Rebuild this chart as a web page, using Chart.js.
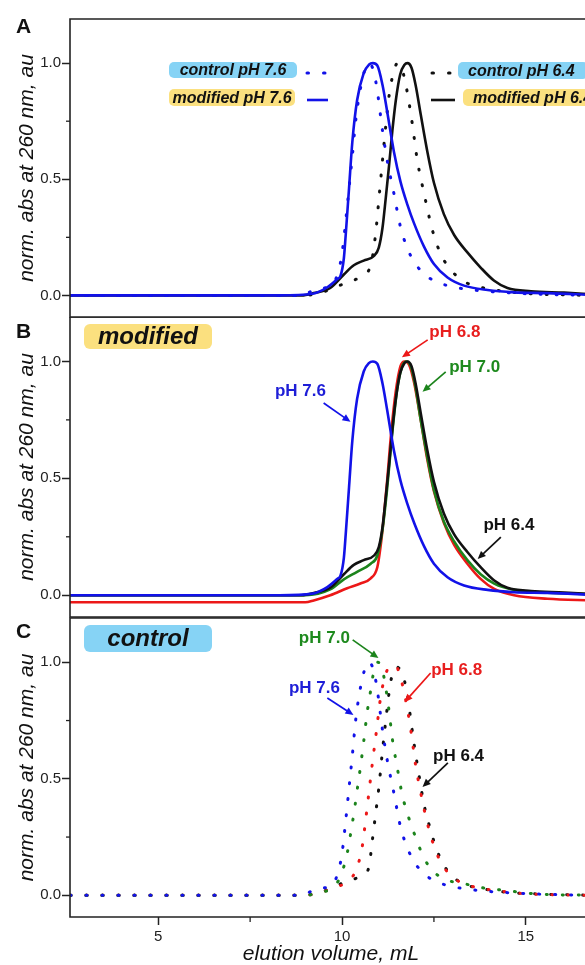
<!DOCTYPE html>
<html><head><meta charset="utf-8">
<script src="https://cdn.jsdelivr.net/npm/chart.js@4.4.1/dist/chart.umd.min.js"></script>
<style>
html,body{margin:0;padding:0;overflow:hidden;background:#fff;width:585px;height:965px;}
canvas{position:absolute;left:0;display:block;}
</style></head><body>
<canvas id="cA" width="592" height="318" style="top:0px"></canvas>
<canvas id="cB" width="592" height="301" style="top:317px"></canvas>
<canvas id="cC" width="592" height="348" style="top:617px"></canvas>
<script>
// ---------- axis setup ----------
const xMin = 2.6, xMax = 16.8, yMin = -0.093, yMax = 1.19;
const yTicks = [0, 0.5, 1.0];
const yTickLabels = ['0.0', '0.5', '1.0'];
const yMinorTicks = [0.25, 0.75];
const xTicks = [5, 10, 15];
const xTickLabels = ['5', '10', '15'];
const xMinorTicks = [7.5, 12.5];

// ---------- data: modified samples (solid) ----------
const modX76 = [2.6, 8.3, 9.2, 9.6, 9.87, 9.96, 10.05, 10.10, 10.19, 10.28, 10.41, 10.59, 10.73, 10.84, 10.96, 11.10, 11.23, 11.41, 11.59, 11.78, 11.96, 12.23, 12.50, 12.87, 13.32, 13.96, 14.68, 15.59, 16.8];
const modY76 = [0, 0, 0.007, 0.035, 0.07, 0.085, 0.16, 0.26, 0.46, 0.66, 0.84, 0.957, 0.993, 1.0, 0.99, 0.907, 0.79, 0.62, 0.49, 0.39, 0.31, 0.21, 0.135, 0.077, 0.042, 0.023, 0.013, 0.01, 0.002];

const modX70 = [2.6, 9.0, 9.68, 10.05, 10.41, 10.78, 10.96, 11.10, 11.23, 11.37, 11.50, 11.64, 11.75, 11.87, 12.0, 12.14, 12.32, 12.50, 12.77, 13.05, 13.41, 13.77, 14.14, 14.68, 15.59, 16.8];
const modY70 = [0, 0, 0.025, 0.068, 0.1, 0.135, 0.17, 0.28, 0.46, 0.70, 0.88, 0.98, 1.0, 0.98, 0.89, 0.75, 0.59, 0.45, 0.315, 0.23, 0.15, 0.09, 0.05, 0.023, 0.011, 0.005];

const modX68 = [2.6, 9.0, 9.23, 9.68, 10.14, 10.5, 10.78, 10.96, 11.05, 11.14, 11.23, 11.34, 11.46, 11.59, 11.70, 11.82, 11.96, 12.14, 12.32, 12.50, 12.77, 13.05, 13.41, 13.77, 14.14, 14.68, 15.59, 16.8];
const modY68 = [-0.03, -0.03, -0.022, 0.0, 0.03, 0.05, 0.072, 0.12, 0.21, 0.34, 0.495, 0.70, 0.87, 0.98, 1.0, 0.987, 0.91, 0.75, 0.58, 0.445, 0.31, 0.215, 0.135, 0.07, 0.027, 0.0, -0.015, -0.022];

const modX64 = [2.6, 8.9, 9.23, 9.68, 10.05, 10.32, 10.59, 10.87, 11.0, 11.10, 11.19, 11.28, 11.37, 11.46, 11.58, 11.70, 11.78, 11.89, 12.0, 12.14, 12.32, 12.50, 12.77, 13.05, 13.41, 13.77, 14.14, 14.50, 15.14, 16.04, 16.8];
const modY64 = [0, 0, 0.01, 0.032, 0.09, 0.13, 0.15, 0.17, 0.206, 0.29, 0.42, 0.56, 0.71, 0.836, 0.95, 0.993, 1.0, 0.98, 0.907, 0.78, 0.62, 0.485, 0.35, 0.26, 0.185, 0.12, 0.063, 0.032, 0.018, 0.012, 0.005];

// ---------- data: control samples (dotted) ----------
const ctlX76 = [2.6, 8.9, 9.32, 9.73, 9.91, 10.0, 10.10, 10.19, 10.28, 10.37, 10.5, 10.64, 10.73, 10.86, 10.96, 11.10, 11.23, 11.41, 11.59, 11.87, 12.23, 12.59, 13.05, 13.77, 14.68, 15.6, 16.8];
const ctlY76 = [0, 0, 0.029, 0.043, 0.11, 0.18, 0.32, 0.46, 0.60, 0.75, 0.89, 0.98, 1.0, 0.965, 0.88, 0.71, 0.58, 0.44, 0.295, 0.17, 0.093, 0.057, 0.036, 0.02, 0.01, 0.004, 0];

const ctlX70 = [2.6, 8.9, 9.4, 9.82, 10.0, 10.14, 10.25, 10.34, 10.41, 10.5, 10.59, 10.68, 10.78, 10.87, 10.98, 11.10, 11.19, 11.28, 11.37, 11.50, 11.64, 11.82, 12.0, 12.23, 12.5, 12.87, 13.32, 13.77, 14.5, 15.3, 16.8];
const ctlY70 = [0, 0, 0.012, 0.043, 0.1, 0.18, 0.28, 0.37, 0.45, 0.55, 0.66, 0.78, 0.88, 0.965, 1.0, 0.965, 0.89, 0.79, 0.67, 0.55, 0.43, 0.33, 0.25, 0.16, 0.10, 0.065, 0.05, 0.034, 0.02, 0.006, 0];

const ctlX68 = [2.6, 8.9, 9.37, 9.8, 10.19, 10.41, 10.55, 10.64, 10.73, 10.82, 10.94, 11.05, 11.19, 11.32, 11.46, 11.59, 11.73, 11.87, 12.0, 12.14, 12.32, 12.55, 12.82, 13.14, 13.59, 14.23, 14.9, 16.8];
const ctlY68 = [0, 0, 0.01, 0.035, 0.063, 0.12, 0.21, 0.32, 0.44, 0.56, 0.71, 0.85, 0.95, 0.985, 0.985, 0.935, 0.84, 0.71, 0.56, 0.44, 0.31, 0.19, 0.11, 0.063, 0.036, 0.02, 0.008, 0];

const ctlX64 = [2.6, 8.9, 9.37, 9.78, 10.19, 10.55, 10.73, 10.82, 10.91, 11.0, 11.10, 11.19, 11.28, 11.37, 11.49, 11.59, 11.70, 11.82, 11.96, 12.10, 12.23, 12.41, 12.59, 12.87, 13.23, 13.77, 14.5, 15.3, 16.8];
const ctlY64 = [0, 0, 0.01, 0.038, 0.063, 0.085, 0.12, 0.23, 0.345, 0.46, 0.62, 0.75, 0.87, 0.95, 0.98, 0.965, 0.92, 0.81, 0.65, 0.51, 0.39, 0.28, 0.19, 0.105, 0.055, 0.03, 0.013, 0.006, 0];

// control pH 6.4 as normalised in panel A
const ctlAX64 = [2.6, 8.9, 9.4, 9.8, 10.14, 10.5, 10.78, 10.91, 11.0, 11.10, 11.19, 11.28, 11.37, 11.51, 11.64, 11.78, 11.91, 12.05, 12.23, 12.46, 12.68, 12.96, 13.32, 13.77, 14.5, 15.3, 16.8];
const ctlAY64 = [0, 0, 0.01, 0.035, 0.055, 0.08, 0.13, 0.26, 0.41, 0.58, 0.73, 0.86, 0.94, 1.0, 0.97, 0.87, 0.74, 0.58, 0.44, 0.28, 0.18, 0.11, 0.06, 0.035, 0.016, 0.006, 0];

// ---------- colours & fonts ----------
const BLUE = 'rgb(18,18,232)', RED = 'rgb(236,24,24)', GREEN = 'rgb(28,132,28)', BLACK = '#111';
const TBLUE = 'rgb(30,30,215)', TRED = 'rgb(232,30,30)', TGREEN = 'rgb(30,138,30)';
const CYANBOX = '#86d3f5', YELLOWBOX = '#fbe07f';
const FAM = '"Liberation Sans", Arial, Helvetica, sans-serif';

// ---------- annotations (data coordinates) ----------
const annB = [
  {t: 'pH 6.8', c: TRED, ac: RED, tx: 13.07, ty: 1.126, x1: 12.33, y1: 1.092, x2: 11.63, y2: 1.018},
  {t: 'pH 7.0', c: TGREEN, ac: GREEN, tx: 13.61, ty: 0.976, x1: 12.82, y1: 0.955, x2: 12.19, y2: 0.870},
  {t: 'pH 7.6', c: TBLUE, ac: BLUE, tx: 8.87, ty: 0.873, x1: 9.50, y1: 0.822, x2: 10.23, y2: 0.742},
  {t: 'pH 6.4', c: BLACK, ac: BLACK, tx: 14.54, ty: 0.300, x1: 14.32, y1: 0.249, x2: 13.69, y2: 0.155}
];
const annC = [
  {t: 'pH 7.0', c: TGREEN, ac: GREEN, tx: 9.52, ty: 1.104, x1: 10.29, y1: 1.096, x2: 10.99, y2: 1.018},
  {t: 'pH 6.8', c: TRED, ac: RED, tx: 13.12, ty: 0.967, x1: 12.41, y1: 0.954, x2: 11.70, y2: 0.829},
  {t: 'pH 7.6', c: TBLUE, ac: BLUE, tx: 9.25, ty: 0.890, x1: 9.60, y1: 0.847, x2: 10.31, y2: 0.774},
  {t: 'pH 6.4', c: BLACK, ac: BLACK, tx: 13.17, ty: 0.598, x1: 12.88, y1: 0.568, x2: 12.19, y2: 0.465}
];
const legendA = [
  {t: 'control pH 7.6', fill: CYANBOX, box: [169, 62, 128, 16], align: 'center', s: [306, 330, 73], col: BLUE, dot: true},
  {t: 'modified pH 7.6', fill: YELLOWBOX, box: [169, 89, 126, 17], align: 'center', s: [306, 328, 100], col: BLUE, dot: false},
  {t: 'control pH 6.4', fill: CYANBOX, box: [458, 62, 130, 17], align: 'left', s: [431, 452, 73], col: BLACK, dot: true},
  {t: 'modified pH 6.4', fill: YELLOWBOX, box: [463, 89, 130, 17], align: 'left', s: [430, 455, 100], col: BLACK, dot: false}
];

// ---------- helpers ----------
const pts = (xs, ys) => xs.map((x, i) => ({x: x, y: ys[i]}));
function solid(label, xs, ys, col) {
  return {label, data: pts(xs, ys), borderColor: col, borderWidth: 2.6, pointRadius: 0,
    cubicInterpolationMode: 'monotone', tension: 0.4, fill: false};
}
function dotted(label, xs, ys, col) {
  return {label, data: pts(xs, ys), borderColor: col, borderWidth: 3, pointRadius: 0,
    borderDash: [1, 15], borderCapStyle: 'round', cubicInterpolationMode: 'monotone', tension: 0.4, fill: false};
}
function rrect(ctx, x, y, w, h, r) {
  ctx.beginPath(); ctx.moveTo(x + r, y);
  ctx.arcTo(x + w, y, x + w, y + h, r); ctx.arcTo(x + w, y + h, x, y + h, r);
  ctx.arcTo(x, y + h, x, y, r); ctx.arcTo(x, y, x + w, y, r); ctx.closePath();
}
function arrow(ctx, x1, y1, x2, y2, col) {
  const a = Math.atan2(y2 - y1, x2 - x1), L = 8, W = 3.6;
  ctx.strokeStyle = col; ctx.fillStyle = col; ctx.lineWidth = 1.7; ctx.setLineDash([]);
  ctx.beginPath(); ctx.moveTo(x1, y1); ctx.lineTo(x2 - L * 0.8 * Math.cos(a), y2 - L * 0.8 * Math.sin(a)); ctx.stroke();
  ctx.beginPath(); ctx.moveTo(x2, y2);
  ctx.lineTo(x2 - L * Math.cos(a) + W * Math.sin(a), y2 - L * Math.sin(a) - W * Math.cos(a));
  ctx.lineTo(x2 - L * Math.cos(a) - W * Math.sin(a), y2 - L * Math.sin(a) + W * Math.cos(a));
  ctx.closePath(); ctx.fill();
}

function decoPlugin(spec) {
  return {
    id: 'deco' + spec.letter,
    afterDraw(chart) {
      const {ctx, chartArea: a, scales} = chart;
      const x = scales.x, y = scales.y;
      ctx.save();
      ctx.setLineDash([]);
      // frame (no right edge: it lies beyond the picture)
      ctx.strokeStyle = '#222'; ctx.lineWidth = 1.6;
      ctx.beginPath();
      ctx.moveTo(a.right + 5, a.top); ctx.lineTo(a.left, a.top);
      ctx.lineTo(a.left, a.bottom); ctx.lineTo(a.right + 5, a.bottom);
      ctx.stroke();
      // minor ticks
      ctx.lineWidth = 1.3;
      yMinorTicks.forEach(v => {
        const p = y.getPixelForValue(v);
        ctx.beginPath(); ctx.moveTo(a.left - 4, p); ctx.lineTo(a.left, p); ctx.stroke();
      });
      if (spec.xAxis) {
        xMinorTicks.forEach(v => {
          const p = x.getPixelForValue(v);
          ctx.beginPath(); ctx.moveTo(p, a.bottom); ctx.lineTo(p, a.bottom + 5); ctx.stroke();
        });
      }
      // panel letter
      ctx.fillStyle = '#111'; ctx.font = 'bold 21px ' + FAM;
      ctx.textAlign = 'left'; ctx.textBaseline = 'alphabetic';
      ctx.fillText(spec.letter, 16, spec.letterY);
      // title box
      if (spec.tag) {
        const [bx, by, bw, bh] = spec.tag.box;
        ctx.fillStyle = spec.tag.fill; rrect(ctx, bx, by, bw, bh, 6); ctx.fill();
        ctx.fillStyle = '#111'; ctx.font = 'italic bold 24px ' + FAM;
        ctx.textAlign = 'center'; ctx.textBaseline = 'middle';
        ctx.fillText(spec.tag.t, bx + bw / 2, by + bh / 2 + 1);
      }
      // legend (panel A)
      (spec.legend || []).forEach(it => {
        const [bx, by, bw, bh] = it.box;
        ctx.fillStyle = it.fill; rrect(ctx, bx, by, bw, bh, 5); ctx.fill();
        ctx.fillStyle = '#111'; ctx.font = 'italic bold 16px ' + FAM;
        ctx.textBaseline = 'middle';
        if (it.align === 'center') { ctx.textAlign = 'center'; ctx.fillText(it.t, bx + bw / 2, by + bh / 2 + 1); }
        else { ctx.textAlign = 'left'; ctx.fillText(it.t, bx + 10, by + bh / 2 + 1); }
        ctx.strokeStyle = it.col;
        if (it.dot) { ctx.lineWidth = 3; ctx.lineCap = 'round'; ctx.setLineDash([1.5, 15]); }
        else { ctx.lineWidth = 2.6; ctx.lineCap = 'butt'; ctx.setLineDash([]); }
        ctx.beginPath(); ctx.moveTo(it.s[0] + 1, it.s[2]); ctx.lineTo(it.s[1], it.s[2]); ctx.stroke();
        ctx.setLineDash([]); ctx.lineCap = 'butt';
      });
      // pH labels + arrows
      (spec.ann || []).forEach(an => {
        ctx.fillStyle = an.c; ctx.font = 'bold 17px ' + FAM;
        ctx.textAlign = 'center'; ctx.textBaseline = 'middle';
        ctx.fillText(an.t, x.getPixelForValue(an.tx), y.getPixelForValue(an.ty));
        arrow(ctx, x.getPixelForValue(an.x1), y.getPixelForValue(an.y1),
              x.getPixelForValue(an.x2), y.getPixelForValue(an.y2), an.ac);
      });
      ctx.restore();
    }
  };
}

function yScale() {
  return {
    type: 'linear', min: yMin, max: yMax,
    afterBuildTicks: s => { s.ticks = yTicks.map(v => ({value: v})); },
    afterFit: s => { s.width = 70; s.paddingTop = 0; s.paddingBottom = 0; },
    ticks: {callback: (v, i) => yTickLabels[i], font: {family: FAM, size: 15}, color: '#222', padding: 1},
    grid: {display: true, drawOnChartArea: false, drawTicks: true, tickLength: 8, tickColor: '#222', tickWidth: 1.5, color: 'rgba(0,0,0,0)'},
    border: {display: false},
    title: {display: true, text: 'norm. abs at 260 nm, au', color: '#111',
      font: {family: FAM, size: 21, style: 'italic', lineHeight: 1.2}, padding: {top: 15, bottom: 0}}
  };
}
function xScale(show) {
  const s = {type: 'linear', min: xMin, max: xMax, display: show, border: {display: false}};
  if (show) {
    Object.assign(s, {
      afterBuildTicks: sc => { sc.ticks = xTicks.map(v => ({value: v})); },
      afterFit: sc => { sc.height = 48; sc.paddingLeft = 0; sc.paddingRight = 0; },
      ticks: {callback: (v, i) => xTickLabels[i], font: {family: FAM, size: 15}, color: '#222', padding: 3, autoSkip: false, maxRotation: 0},
      grid: {display: true, drawOnChartArea: false, drawTicks: true, tickLength: 8, tickColor: '#222', tickWidth: 1.5, color: 'rgba(0,0,0,0)'},
      title: {display: true, text: 'elution volume, mL', color: '#111',
        font: {family: FAM, size: 21, style: 'italic', lineHeight: 1.0}, padding: {top: 0, bottom: 0}}
    });
  }
  return s;
}
function makeChart(id, datasets, pad, showX, spec) {
  return new Chart(document.getElementById(id), {
    type: 'line',
    data: {datasets},
    options: {
      responsive: false, animation: false, events: [],
      layout: {padding: pad},
      scales: {x: xScale(showX), y: yScale()},
      plugins: {legend: {display: false}, tooltip: {enabled: false}, title: {display: false}}
    },
    plugins: [decoPlugin(spec)]
  });
}

makeChart('cA', [
  solid('modified pH 7.6', modX76, modY76, BLUE),
  dotted('control pH 7.6', ctlX76, ctlY76, BLUE),
  solid('modified pH 6.4', modX64, modY64, BLACK),
  dotted('control pH 6.4', ctlAX64, ctlAY64, BLACK)
], {top: 19, bottom: 1, left: 0, right: 0}, false, {letter: 'A', letterY: 33, legend: legendA});

makeChart('cB', [
  solid('pH 7.6', modX76, modY76, BLUE),
  solid('pH 6.4', modX64, modY64, BLACK),
  solid('pH 7.0', modX70, modY70, GREEN),
  solid('pH 6.8', modX68, modY68, RED)
], {top: 0, bottom: 1, left: 0, right: 0}, false,
  {letter: 'B', letterY: 21, ann: annB, tag: {t: 'modified', fill: YELLOWBOX, box: [84, 7, 128, 25]}});

makeChart('cC', [
  dotted('pH 7.6', ctlX76, ctlY76, BLUE),
  dotted('pH 7.0', ctlX70, ctlY70, GREEN),
  dotted('pH 6.8', ctlX68, ctlY68, RED),
  dotted('pH 6.4', ctlX64, ctlY64, BLACK)
], {top: 1, bottom: 0, left: 0, right: 0}, true,
  {letter: 'C', letterY: 21, xAxis: true, ann: annC, tag: {t: 'control', fill: CYANBOX, box: [84, 8, 128, 27]}});
</script>
</body></html>
